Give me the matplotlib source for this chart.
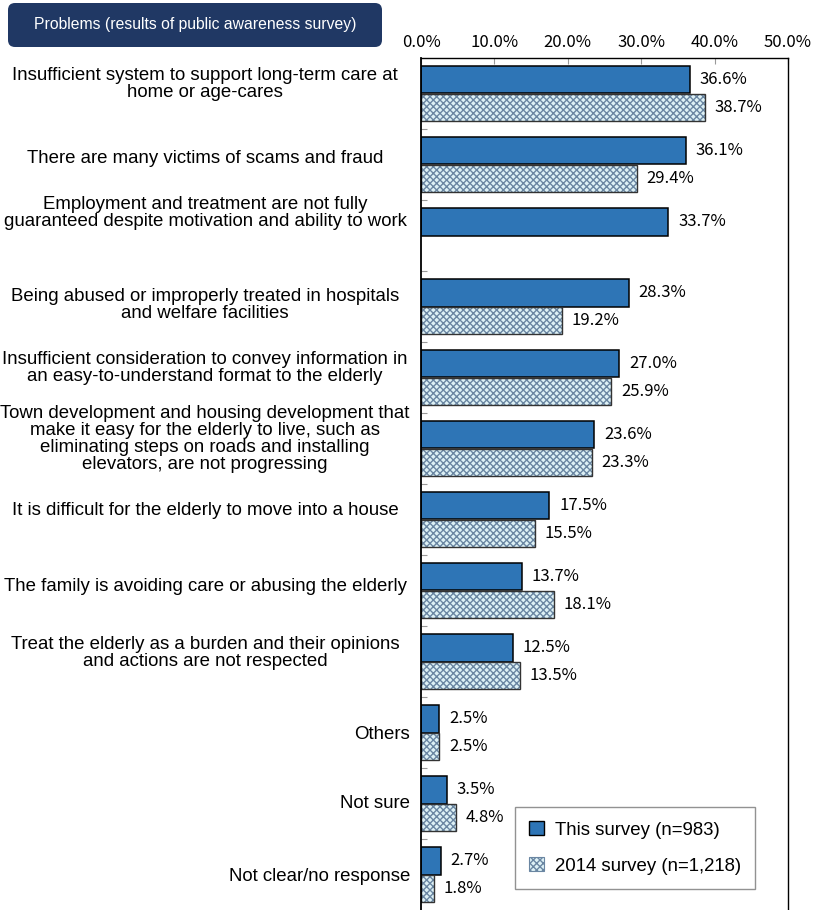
import matplotlib
matplotlib.use("Agg")
import matplotlib.pyplot as plt
import numpy as np
from matplotlib.patches import FancyBboxPatch, Patch

# data
categories = [
    "Insufficient system to support long-term care at\nhome or age-cares",
    "There are many victims of scams and fraud",
    "Employment and treatment are not fully\nguaranteed despite motivation and ability to work",
    "Being abused or improperly treated in hospitals\nand welfare facilities",
    "Insufficient consideration to convey information in\nan easy-to-understand format to the elderly",
    "Town development and housing development that\nmake it easy for the elderly to live, such as\neliminating steps on roads and installing\nelevators, are not progressing",
    "It is difficult for the elderly to move into a house",
    "The family is avoiding care or abusing the elderly",
    "Treat the elderly as a burden and their opinions\nand actions are not respected",
    "Others",
    "Not sure",
    "Not clear/no response",
]
this_survey = [36.6, 36.1, 33.7, 28.3, 27.0, 23.6, 17.5, 13.7, 12.5, 2.5, 3.5, 2.7]
survey_2014 = [38.7, 29.4, np.nan, 19.2, 25.9, 23.3, 15.5, 18.1, 13.5, 2.5, 4.8, 1.8]
xticks = [0, 10, 20, 30, 40, 50]
series_names = ["This survey (n=983)", "2014 survey (n=1,218)"]
title = "Problems (results of public awareness survey)"

# label nudges (slot units), long labels sit a bit high in the original
label_shift = [-0.13, -0.09, -0.32, -0.02, -0.13, -0.14, -0.12, -0.06, -0.12, 0.03, 0.0, 0.03]

blue = "#2E75B6"
hatch_face = "#DDF1F6"
hatch_col = "#6A86A2"
navy = "#203864"
num_font = ["Noto Sans CJK JP", "DejaVu Sans"]
txt_font = ["Liberation Sans", "DejaVu Sans"]

W, H = 813, 910
fig = plt.figure(figsize=(W / 100, H / 100), dpi=100)
ax = fig.add_axes([421 / W, 0, (788 - 421) / W, (H - 58) / H])

n = len(categories)
y = np.arange(n) + 0.5
bh = 0.39

ax.barh(y - bh / 2, this_survey, height=bh, color=blue, edgecolor="black", linewidth=1.1)
old = np.array(survey_2014)
ok = ~np.isnan(old)
ax.barh((y + bh / 2)[ok], old[ok], height=bh, color=hatch_face, edgecolor=hatch_col,
        hatch="xxxxx", linewidth=0)
ax.barh((y + bh / 2)[ok], old[ok], height=bh, fill=False, edgecolor="#333333", linewidth=1.0)

for yi, v in zip(y - bh / 2, this_survey):
    ax.annotate(f"{v:.1f}%", (v, yi), xytext=(7, 0), textcoords="offset points",
                va="center", ha="left", fontsize=12, family=num_font)
for yi, v in zip(y + bh / 2, survey_2014):
    if np.isnan(v):
        continue
    ax.annotate(f"{v:.1f}%", (v, yi), xytext=(7, 0), textcoords="offset points",
                va="center", ha="left", fontsize=12, family=num_font)

ax.set_xlim(0, 50)
ax.set_ylim(n, 0)
ax.xaxis.tick_top()
ax.set_xticks(xticks)
ax.set_xticklabels([f"{t:.1f}%" for t in xticks], family=num_font, fontsize=12)
ax.tick_params(axis="x", direction="in", length=4, color="#999999", pad=5)
ax.set_yticks(np.arange(1, n))
ax.set_yticklabels([])
ax.tick_params(axis="y", direction="in", length=4, color="#999999")
ax.spines["bottom"].set_visible(False)
ax.spines["left"].set_linewidth(1.3)
for s in ["top", "right"]:
    ax.spines[s].set_linewidth(1.0)

# category labels: long ones centred in the left block, short ones right-aligned
for i, lab in enumerate(categories):
    long_lab = len(lab) > 25
    ax.annotate(lab, xy=(0, y[i] + label_shift[i]), xycoords=("figure fraction", "data"),
                xytext=((205 if long_lab else 410), 0), textcoords=("figure pixels", "offset points"),
                ha=("center" if long_lab else "right"), va="center",
                multialignment="center", fontsize=13.4, family=txt_font, linespacing=1.0)

# legend
handles = [Patch(facecolor=blue, edgecolor="black", linewidth=1.0),
           Patch(facecolor=hatch_face, edgecolor=hatch_col, hatch="xxxxx", linewidth=0.8)]
leg = ax.legend(handles, series_names, loc="upper left", bbox_to_anchor=(0.256, (H - 807) / (H - 58)),
                frameon=True, fancybox=False, edgecolor="#777777", prop={"family": txt_font, "size": 13.4},
                handlelength=0.8, handleheight=0.8, labelspacing=1.0, borderpad=0.75,
                handletextpad=0.6, borderaxespad=0)
leg.get_frame().set_linewidth(1.0)

# title box
axt = fig.add_axes([8 / W, (H - 47) / H, 374 / W, 44 / H])
axt.set_xlim(0, 374)
axt.set_ylim(0, 44)
axt.axis("off")
axt.add_patch(FancyBboxPatch((0, 0), 374, 44, boxstyle="round,pad=0,rounding_size=7",
                             facecolor=navy, edgecolor="none", clip_on=False))
axt.text(187, 22, title, color="white", ha="center", va="center", fontsize=11.3, family=txt_font)

fig.savefig("out.png", dpi=100)
